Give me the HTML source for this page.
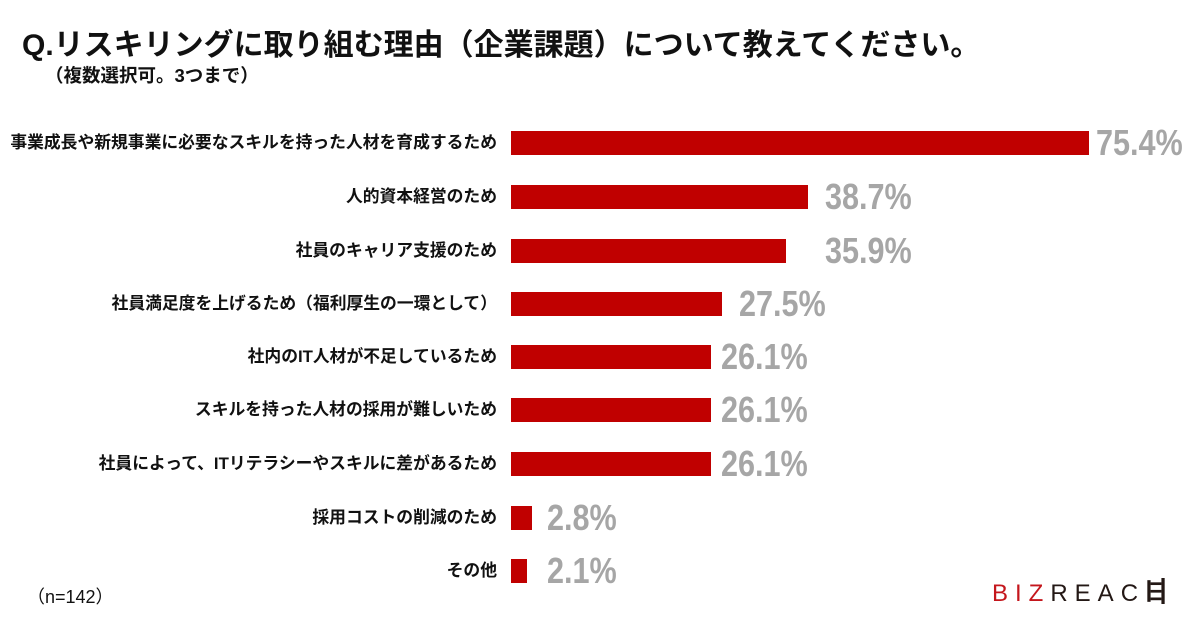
<!DOCTYPE html>
<html><head><meta charset="utf-8"><style>
body{margin:0;width:1200px;height:630px;background:#fff;position:relative;overflow:hidden;font-family:"Liberation Sans","Noto Sans CJK JP",sans-serif;}
.t{position:absolute;left:22px;top:20px;font-size:30px;font-weight:bold;color:#111;white-space:nowrap;}
.s{position:absolute;left:45px;top:62px;font-size:18.5px;font-weight:bold;color:#111;white-space:nowrap;}
.lab{position:absolute;right:703px;font-size:16.8px;font-weight:bold;color:#111;white-space:nowrap;line-height:24px;}
.bar{position:absolute;left:511px;height:24px;background:#c00000;}
.val{position:absolute;font-size:36px;font-weight:bold;color:#a6a6a6;line-height:24px;white-space:nowrap;transform:scaleX(0.85);transform-origin:left center;}
.n{position:absolute;left:27px;top:583px;font-size:18px;color:#111;}
.logo{position:absolute;left:992px;top:578px;font-size:24px;letter-spacing:7px;color:#231815;white-space:nowrap;}
</style></head><body>
<div class="t">Q.リスキリングに取り組む理由（企業課題）について教えてください。</div>
<div class="s">（複数選択可。3つまで）</div>

<div class="lab" style="top:131px">事業成長や新規事業に必要なスキルを持った人材を育成するため</div>
<div class="bar" style="top:131px;width:578px"></div>
<div class="val" style="top:131px;left:1096px">75.4%</div>

<div class="lab" style="top:185px">人的資本経営のため</div>
<div class="bar" style="top:185px;width:297px"></div>
<div class="val" style="top:185px;left:825px">38.7%</div>

<div class="lab" style="top:239px">社員のキャリア支援のため</div>
<div class="bar" style="top:239px;width:275px"></div>
<div class="val" style="top:239px;left:825px">35.9%</div>

<div class="lab" style="top:292px">社員満足度を上げるため（福利厚生の一環として）</div>
<div class="bar" style="top:292px;width:211px"></div>
<div class="val" style="top:292px;left:739px">27.5%</div>

<div class="lab" style="top:345px">社内のIT人材が不足しているため</div>
<div class="bar" style="top:345px;width:200px"></div>
<div class="val" style="top:345px;left:721px">26.1%</div>

<div class="lab" style="top:398px">スキルを持った人材の採用が難しいため</div>
<div class="bar" style="top:398px;width:200px"></div>
<div class="val" style="top:398px;left:721px">26.1%</div>

<div class="lab" style="top:452px">社員によって、ITリテラシーやスキルに差があるため</div>
<div class="bar" style="top:452px;width:200px"></div>
<div class="val" style="top:452px;left:721px">26.1%</div>

<div class="lab" style="top:506px">採用コストの削減のため</div>
<div class="bar" style="top:506px;width:21px"></div>
<div class="val" style="top:506px;left:547px">2.8%</div>

<div class="lab" style="top:559px">その他</div>
<div class="bar" style="top:559px;width:16px"></div>
<div class="val" style="top:559px;left:547px">2.1%</div>

<div class="n">（n=142）</div>
<div class="logo"><span style="color:#c4161c">BIZ</span>REAC<svg width="22" height="26" viewBox="0 0 20 24" style="vertical-align:-3px"><rect x="2" y="2" width="3" height="20" fill="#231815"/><rect x="15" y="0" width="3" height="24" fill="#231815"/><rect x="5" y="4" width="10" height="2.5" fill="#231815"/><rect x="5" y="11" width="10" height="2.5" fill="#231815"/><rect x="5" y="18" width="10" height="2.5" fill="#231815"/></svg></div>
</body></html>
